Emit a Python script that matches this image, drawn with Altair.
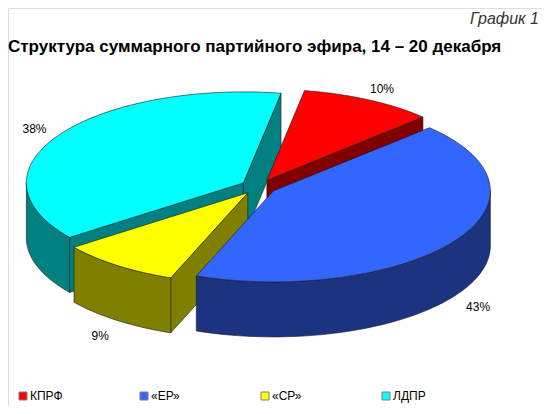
import altair as alt
import pandas as pd
import math

# ---- data ----
parties = ["КПРФ", "«ЕР»", "«СР»", "ЛДПР"]
shares = [10, 43, 9, 38]
top_colors = ["#FF0000", "#3366FF", "#FFFF00", "#00FFFF"]
side_colors = ["#800000", "#1C3480", "#808000", "#008080"]
chart_title = ["Структура суммарного партийного эфира, 14 – 20 декабря"]
chart_tag = ["График 1"]

df = pd.DataFrame({"party": parties, "share": shares, "idx": list(range(len(parties)))})

# ---- 3D pie geometry (image pixel space) ----
CX, CY = 258.5, 186.8      # centre of pie top
A, B = 217.0, 91.0         # ellipse radii
EXPLODE = 0.082            # explode fraction of radius
DEPTH = 55.0               # thickness
START = math.radians(10)   # first slice start angle (clockwise from 12 o'clock)
N = 60                     # arc resolution
FONT = "Liberation Sans"

X = alt.X("px:Q", scale=alt.Scale(domain=[8, 542], nice=False, zero=False), axis=None)
Y = alt.Y("py:Q", scale=alt.Scale(domain=[8, 406], nice=False, zero=False, reverse=True), axis=None)


def base():
    return (
        alt.Chart(df)
        .transform_window(cum="sum(share)", sort=[alt.SortField("idx")], frame=[None, 0])
        .transform_joinaggregate(total="sum(share)")
        .transform_calculate(a0=f"{START} + 2*PI*(datum.cum - datum.share)/datum.total")
        .transform_calculate(a1=f"{START} + 2*PI*datum.cum/datum.total")
        .transform_calculate(mid="(datum.a0 + datum.a1)/2")
        .transform_calculate(ox=f"{CX} + {EXPLODE * A}*sin(datum.mid)")
        .transform_calculate(oy=f"{CY} - {EXPLODE * B}*cos(datum.mid)")
    )


side_fill = alt.Fill("party:N", scale=alt.Scale(domain=parties, range=side_colors), legend=None)
top_fill = alt.Fill("party:N", scale=alt.Scale(domain=parties, range=top_colors), legend=None)


def sides(party):
    return (
        base()
        .transform_filter(alt.datum.party == party)
        .transform_calculate(lo="max(datum.a0, PI/2)")
        .transform_calculate(hi="min(datum.a1, 3*PI/2)")
        .transform_calculate(f="sequence(0, 3)")
        .transform_flatten(["f"])
        .transform_calculate(k=f"sequence(0, {2 * N + 2})")
        .transform_flatten(["k"])
        .transform_filter(
            "(datum.f == 2 && datum.lo < datum.hi) || "
            "(datum.f == 0 && datum.k < 4 && sin(datum.a0) < 0) || "
            "(datum.f == 1 && datum.k < 4 && sin(datum.a1) > 0)"
        )
        .transform_calculate(phi="datum.f == 0 ? datum.a0 : datum.a1")
        .transform_calculate(
            th=f"datum.f == 2 ? (datum.k <= {N} ? datum.lo + (datum.hi - datum.lo)*datum.k/{N} "
               f": datum.hi - (datum.hi - datum.lo)*(datum.k - {N} - 1)/{N}) : datum.phi"
        )
        .transform_calculate(r="datum.f == 2 ? 1 : ((datum.k == 1 || datum.k == 2) ? 1 : 0)")
        .transform_calculate(
            z=f"datum.f == 2 ? (datum.k <= {N} ? 0 : {DEPTH}) : (datum.k >= 2 ? {DEPTH} : 0)"
        )
        .transform_calculate(px=f"datum.ox + {A}*datum.r*sin(datum.th)")
        .transform_calculate(py=f"datum.oy - {B}*datum.r*cos(datum.th) + datum.z")
        .mark_line(interpolate="linear-closed", stroke="#1a1a1a", strokeWidth=0.6)
        .encode(x=X, y=Y, order="k:Q", detail="f:N", fill=side_fill)
    )


tops = (
    base()
    .transform_calculate(k=f"sequence(0, {N + 2})")
    .transform_flatten(["k"])
    .transform_calculate(r=f"datum.k <= {N} ? 1 : 0")
    .transform_calculate(th=f"datum.a0 + (datum.a1 - datum.a0)*min(datum.k, {N})/{N}")
    .transform_calculate(px=f"datum.ox + {A}*datum.r*sin(datum.th)")
    .transform_calculate(py=f"datum.oy - {B}*datum.r*cos(datum.th)")
    .mark_line(interpolate="linear-closed", stroke="#1a1a1a", strokeWidth=0.6)
    .encode(x=X, y=Y, order="k:Q", detail="party:N", fill=top_fill)
)

labels = (
    base()
    .transform_calculate(px=f"datum.ox + {A * 1.13}*sin(datum.mid)")
    .transform_calculate(
        py=f"datum.oy - {B * 1.13}*cos(datum.mid) + (cos(datum.mid) < 0 ? {DEPTH} - 8*cos(datum.mid) : 0)"
    )
    .transform_calculate(txt="datum.share + '%'")
    .mark_text(font=FONT, fontSize=12, color="#000000")
    .encode(x=X, y=Y, text="txt:N")
)

legend_sq = (
    alt.Chart(df)
    .transform_calculate(px="23 + 121*datum.idx", py="396")
    .mark_square(size=64, stroke="#808080", strokeWidth=1, opacity=1)
    .encode(x=X, y=Y, fill=alt.Fill("party:N", scale=alt.Scale(domain=parties, range=top_colors), legend=None))
)
legend_tx = (
    alt.Chart(df)
    .transform_calculate(px="30 + 121*datum.idx", py="396")
    .mark_text(font=FONT, fontSize=12, align="left", baseline="middle", color="#000000")
    .encode(x=X, y=Y, text="party:N")
)

title = alt.Chart(pd.DataFrame({"t": chart_title})).mark_text(
    font=FONT, fontSize=17, fontWeight="bold", align="left", baseline="alphabetic", color="#000000",
).encode(x=alt.value(0), y=alt.value(44), text="t:N")
subtitle = alt.Chart(pd.DataFrame({"t": chart_tag})).mark_text(
    font=FONT, fontSize=16, fontStyle="italic", fontWeight="normal", align="right",
    baseline="alphabetic", color="#333333",
).encode(x=alt.value(531), y=alt.value(16), text="t:N")

chart = (
    alt.layer(
        sides("КПРФ"), sides("ЛДПР"), sides("«СР»"), sides("«ЕР»"),
        tops, labels, legend_sq, legend_tx, title, subtitle,
    )
    .resolve_scale(fill="independent")
    .properties(width=534, height=398, padding=0, autosize=alt.AutoSizeParams(type="none"))
    .configure_view(stroke=None)
    .configure(background="white")
)

chart.save("out.html", embed_options={"renderer": "svg", "actions": False})
